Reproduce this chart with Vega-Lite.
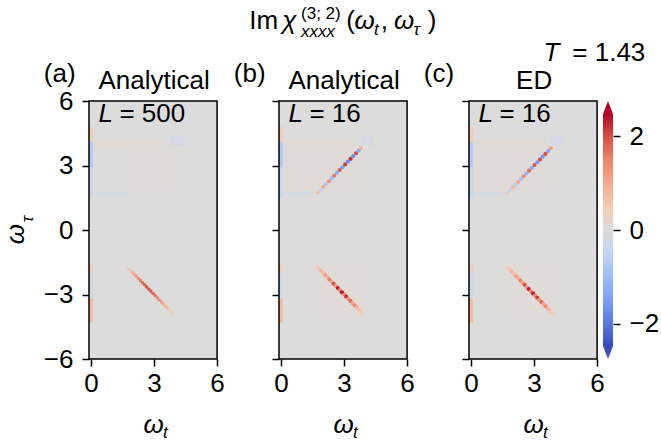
{
"$schema":"https://vega.github.io/schema/vega-lite/v6.json",
"background":"white",
"padding":{"left":3,"top":5,"right":5,"bottom":5},
"config":{"font":"Liberation Sans","view":{"stroke":null},
"axis":{"grid":false,"domain":false,"tickColor":"black","tickWidth":1.5,"tickSize":7,"labelFontSize":26,"labelColor":"black","labelFont":"Liberation Sans","labelFlush":false,"labelOverlap":false}},
"datasets":{
"cells":[
{"p":"a","x":-0.1,"x2":6,"y":-6,"y2":6,"v":0},
{"p":"a","x":1.7,"x2":3.8,"y":1.8,"y2":3.8,"v":0.04},
{"p":"a","x":-0.1,"x2":0.08,"y":4.1,"y2":4.8,"v":0.5},
{"p":"a","x":-0.1,"x2":0.08,"y":2.9,"y2":4.1,"v":-0.75},
{"p":"a","x":-0.1,"x2":0.08,"y":1.5,"y2":2.9,"v":-0.35},
{"p":"a","x":-0.1,"x2":0.08,"y":-2.0,"y2":-1.6,"v":0.4},
{"p":"a","x":-0.1,"x2":0.08,"y":-3.2,"y2":-2.0,"v":-0.25},
{"p":"a","x":-0.1,"x2":0.08,"y":-4.3,"y2":-3.2,"v":0.8},
{"p":"a","x":0.08,"x2":3.8,"y":3.85,"y2":4.1,"v":0.1},
{"p":"a","x":0.08,"x2":1.7,"y":1.65,"y2":1.75,"v":-0.15},
{"p":"a","x":3.8,"x2":4.4,"y":3.9,"y2":4.4,"v":-0.15},
{"p":"b","x":-0.1,"x2":6,"y":-6,"y2":6,"v":0},
{"p":"b","x":0.08,"x2":3.8,"y":1.8,"y2":3.85,"v":0.05},
{"p":"b","x":1.6,"x2":4.0,"y":-4.1,"y2":-1.6,"v":0.04},
{"p":"b","x":-0.1,"x2":0.08,"y":4.1,"y2":4.8,"v":0.5},
{"p":"b","x":-0.1,"x2":0.08,"y":2.9,"y2":4.1,"v":-0.75},
{"p":"b","x":-0.1,"x2":0.08,"y":1.5,"y2":2.9,"v":-0.35},
{"p":"b","x":-0.1,"x2":0.08,"y":-2.0,"y2":-1.6,"v":0.4},
{"p":"b","x":-0.1,"x2":0.08,"y":-3.2,"y2":-2.0,"v":-0.25},
{"p":"b","x":-0.1,"x2":0.08,"y":-4.3,"y2":-3.2,"v":0.8},
{"p":"b","x":0.08,"x2":3.8,"y":3.85,"y2":4.1,"v":0.1},
{"p":"b","x":0.08,"x2":1.7,"y":1.65,"y2":1.75,"v":-0.15},
{"p":"b","x":3.8,"x2":4.4,"y":3.9,"y2":4.4,"v":-0.15},
{"p":"c","x":-0.1,"x2":6,"y":-6,"y2":6,"v":0},
{"p":"c","x":0.08,"x2":3.8,"y":1.8,"y2":3.85,"v":0.05},
{"p":"c","x":1.6,"x2":4.0,"y":-4.1,"y2":-1.6,"v":0.04},
{"p":"c","x":-0.1,"x2":0.08,"y":4.1,"y2":4.8,"v":0.5},
{"p":"c","x":-0.1,"x2":0.08,"y":2.9,"y2":4.1,"v":-0.75},
{"p":"c","x":-0.1,"x2":0.08,"y":1.5,"y2":2.9,"v":-0.35},
{"p":"c","x":-0.1,"x2":0.08,"y":-2.0,"y2":-1.6,"v":0.4},
{"p":"c","x":-0.1,"x2":0.08,"y":-3.2,"y2":-2.0,"v":-0.25},
{"p":"c","x":-0.1,"x2":0.08,"y":-4.3,"y2":-3.2,"v":0.8},
{"p":"c","x":0.08,"x2":3.8,"y":3.85,"y2":4.1,"v":0.1},
{"p":"c","x":0.08,"x2":1.7,"y":1.65,"y2":1.75,"v":-0.15},
{"p":"c","x":3.8,"x2":4.4,"y":3.9,"y2":4.4,"v":-0.15}
],
"dots":[
{"p":"a","x":1.75,"y":-1.75,"v":0.45},{"p":"a","x":1.85,"y":-1.85,"v":0.6},{"p":"a","x":1.95,"y":-1.95,"v":0.8},{"p":"a","x":2.05,"y":-2.05,"v":1.0},{"p":"a","x":2.15,"y":-2.15,"v":1.2},{"p":"a","x":2.25,"y":-2.25,"v":1.4},{"p":"a","x":2.35,"y":-2.35,"v":1.55},{"p":"a","x":2.45,"y":-2.45,"v":1.7},{"p":"a","x":2.55,"y":-2.55,"v":1.85},{"p":"a","x":2.65,"y":-2.65,"v":1.95},{"p":"a","x":2.75,"y":-2.75,"v":1.95},{"p":"a","x":2.85,"y":-2.85,"v":1.9},{"p":"a","x":2.95,"y":-2.95,"v":1.8},{"p":"a","x":3.05,"y":-3.05,"v":1.65},{"p":"a","x":3.15,"y":-3.15,"v":1.5},{"p":"a","x":3.25,"y":-3.25,"v":1.35},{"p":"a","x":3.35,"y":-3.35,"v":1.2},{"p":"a","x":3.45,"y":-3.45,"v":1.0},{"p":"a","x":3.55,"y":-3.55,"v":0.85},{"p":"a","x":3.65,"y":-3.65,"v":0.7},{"p":"a","x":3.75,"y":-3.75,"v":0.55},{"p":"a","x":3.85,"y":-3.85,"v":0.4},
{"p":"b","x":1.75,"y":1.75,"v":0.7},{"p":"b","x":1.88,"y":1.88,"v":-0.6},{"p":"b","x":2.01,"y":2.01,"v":1.0},{"p":"b","x":2.14,"y":2.14,"v":-0.8},{"p":"b","x":2.27,"y":2.27,"v":1.3},{"p":"b","x":2.4,"y":2.4,"v":-1.0},{"p":"b","x":2.53,"y":2.53,"v":1.6},{"p":"b","x":2.66,"y":2.66,"v":-1.3},{"p":"b","x":2.79,"y":2.79,"v":1.9},{"p":"b","x":2.92,"y":2.92,"v":-1.5},{"p":"b","x":3.05,"y":3.05,"v":2.1},{"p":"b","x":3.18,"y":3.18,"v":-1.7},{"p":"b","x":3.31,"y":3.31,"v":2.2},{"p":"b","x":3.44,"y":3.44,"v":-1.7},{"p":"b","x":3.57,"y":3.57,"v":2.0},{"p":"b","x":3.7,"y":3.7,"v":-1.3},{"p":"b","x":3.8,"y":3.8,"v":0.9},
{"p":"b","x":1.7,"y":-1.7,"v":0.4},{"p":"b","x":1.8,"y":-1.8,"v":0.6},{"p":"b","x":1.9,"y":-1.9,"v":0.8},{"p":"b","x":2.0,"y":-2.0,"v":0.7},{"p":"b","x":2.1,"y":-2.1,"v":1.1},{"p":"b","x":2.2,"y":-2.2,"v":0.9},{"p":"b","x":2.3,"y":-2.3,"v":1.5},{"p":"b","x":2.4,"y":-2.4,"v":1.1},{"p":"b","x":2.5,"y":-2.5,"v":2.0},{"p":"b","x":2.6,"y":-2.6,"v":1.3},{"p":"b","x":2.7,"y":-2.7,"v":2.3},{"p":"b","x":2.8,"y":-2.8,"v":1.4},{"p":"b","x":2.9,"y":-2.9,"v":2.4},{"p":"b","x":3.0,"y":-3.0,"v":1.4},{"p":"b","x":3.1,"y":-3.1,"v":2.2},{"p":"b","x":3.2,"y":-3.2,"v":1.3},{"p":"b","x":3.3,"y":-3.3,"v":1.8},{"p":"b","x":3.4,"y":-3.4,"v":1.1},{"p":"b","x":3.5,"y":-3.5,"v":1.4},{"p":"b","x":3.6,"y":-3.6,"v":0.9},{"p":"b","x":3.7,"y":-3.7,"v":0.7},{"p":"b","x":3.8,"y":-3.8,"v":0.5},{"p":"b","x":3.88,"y":-3.88,"v":0.35},
{"p":"c","x":1.72,"y":1.72,"v":0.5},{"p":"c","x":1.85,"y":1.85,"v":-0.5},{"p":"c","x":1.98,"y":1.98,"v":0.8},{"p":"c","x":2.11,"y":2.11,"v":-0.7},{"p":"c","x":2.24,"y":2.24,"v":1.1},{"p":"c","x":2.37,"y":2.37,"v":-0.9},{"p":"c","x":2.5,"y":2.5,"v":1.4},{"p":"c","x":2.63,"y":2.63,"v":-1.1},{"p":"c","x":2.76,"y":2.76,"v":1.7},{"p":"c","x":2.89,"y":2.89,"v":-1.3},{"p":"c","x":3.02,"y":3.02,"v":1.9},{"p":"c","x":3.15,"y":3.15,"v":-1.5},{"p":"c","x":3.28,"y":3.28,"v":2.0},{"p":"c","x":3.41,"y":3.41,"v":-1.6},{"p":"c","x":3.54,"y":3.54,"v":2.0},{"p":"c","x":3.67,"y":3.67,"v":-1.4},{"p":"c","x":3.8,"y":3.8,"v":1.2},
{"p":"c","x":1.75,"y":-1.75,"v":0.4},{"p":"c","x":1.85,"y":-1.85,"v":0.6},{"p":"c","x":1.95,"y":-1.95,"v":0.8},{"p":"c","x":2.05,"y":-2.05,"v":0.7},{"p":"c","x":2.15,"y":-2.15,"v":1.1},{"p":"c","x":2.25,"y":-2.25,"v":0.9},{"p":"c","x":2.35,"y":-2.35,"v":1.5},{"p":"c","x":2.45,"y":-2.45,"v":1.1},{"p":"c","x":2.55,"y":-2.55,"v":2.0},{"p":"c","x":2.65,"y":-2.65,"v":1.3},{"p":"c","x":2.75,"y":-2.75,"v":2.3},{"p":"c","x":2.85,"y":-2.85,"v":1.4},{"p":"c","x":2.95,"y":-2.95,"v":2.3},{"p":"c","x":3.05,"y":-3.05,"v":1.4},{"p":"c","x":3.15,"y":-3.15,"v":2.1},{"p":"c","x":3.25,"y":-3.25,"v":1.3},{"p":"c","x":3.35,"y":-3.35,"v":1.8},{"p":"c","x":3.45,"y":-3.45,"v":1.1},{"p":"c","x":3.55,"y":-3.55,"v":1.4},{"p":"c","x":3.65,"y":-3.65,"v":0.9},{"p":"c","x":3.75,"y":-3.75,"v":0.7},{"p":"c","x":3.85,"y":-3.85,"v":0.5},{"p":"c","x":3.93,"y":-3.93,"v":0.35}
],
"ann":[
{"p":"a","k":"big","x":-2.25,"y":6.88,"t":"(a)"},
{"p":"a","k":"bigc","x":3.0,"y":6.58,"t":"Analytical"},
{"p":"a","k":"bigi","x":0.35,"y":5.02,"t":"L"},
{"p":"a","k":"big","x":1.35,"y":5.02,"t":"= 500"},
{"p":"a","k":"bigi","x":2.5,"y":-9.44,"t":"ω"},
{"p":"a","k":"smalli","x":3.42,"y":-9.67,"t":"t"},
{"p":"a","k":"roti","x":-3.18,"y":-0.19,"t":"ω"},
{"p":"a","k":"rotsi","x":-2.78,"y":0.51,"t":"τ"},
{"p":"b","k":"big","x":-2.25,"y":6.88,"t":"(b)"},
{"p":"b","k":"bigc","x":3.0,"y":6.58,"t":"Analytical"},
{"p":"b","k":"bigi","x":0.35,"y":5.02,"t":"L"},
{"p":"b","k":"big","x":1.35,"y":5.02,"t":"= 16"},
{"p":"b","k":"bigi","x":2.5,"y":-9.44,"t":"ω"},
{"p":"b","k":"smalli","x":3.42,"y":-9.67,"t":"t"},
{"p":"b","k":"big","x":-1.52,"y":9.35,"t":"Im"},
{"p":"b","k":"bigi","x":0.05,"y":9.35,"t":"χ"},
{"p":"b","k":"small","x":0.95,"y":9.81,"t":"(3; 2)"},
{"p":"b","k":"smalli","x":0.95,"y":8.98,"t":"xxxx"},
{"p":"b","k":"big","x":3.1,"y":9.35,"t":"("},
{"p":"b","k":"bigi","x":3.5,"y":9.35,"t":"ω"},
{"p":"b","k":"smalli","x":4.42,"y":9.07,"t":"t"},
{"p":"b","k":"big","x":4.74,"y":9.35,"t":","},
{"p":"b","k":"bigi","x":5.38,"y":9.35,"t":"ω"},
{"p":"b","k":"smalli","x":6.3,"y":9.07,"t":"τ"},
{"p":"b","k":"big","x":6.98,"y":9.35,"t":")"},
{"p":"c","k":"big","x":-2.25,"y":6.88,"t":"(c)"},
{"p":"c","k":"bigc","x":3.0,"y":6.58,"t":"ED"},
{"p":"c","k":"bigi","x":0.35,"y":5.02,"t":"L"},
{"p":"c","k":"big","x":1.35,"y":5.02,"t":"= 16"},
{"p":"c","k":"bigi","x":2.5,"y":-9.44,"t":"ω"},
{"p":"c","k":"smalli","x":3.42,"y":-9.67,"t":"t"},
{"p":"c","k":"bigi","x":3.45,"y":7.85,"t":"T"},
{"p":"c","k":"big","x":4.82,"y":7.85,"t":"= 1.43"}
],
"cbar":[{"x":0,"x2":1,"y":-2.47,"y2":2.47}],
"tri":[{"x":0.5,"y":2.608,"end":"top"},{"x":0.5,"y":-2.608,"end":"bottom"}]
},
"bounds":"flush",
"spacing":0,
"hconcat":[
{"width":190,"height":258,
"encoding":{"x":{"field":"x","type":"quantitative","scale":{"domain":[-0.1,8.948],"nice":false,"zero":false},"axis":{"values":[0,3,6],"title":null,"labelPadding":4}},
"y":{"field":"y","type":"quantitative","scale":{"domain":[-6,6],"nice":false,"zero":false},"axis":{"values":[-6,-3,0,3,6],"title":null,"labelPadding":9}}},
"layer":[
{"data":{"name":"cells"},"transform":[{"filter":"datum.p === 'a'"}],"mark":{"type":"rect"},"encoding":{"x2":{"field":"x2"},"y2":{"field":"y2"},"color":{"field":"v","type":"quantitative","legend":null,"scale":{"type":"linear","domain":[-2.47,-1.976,-1.482,-0.988,-0.494,0,0.494,0.988,1.482,1.976,2.47],"range":["#3b4cc0","#5a78e4","#7b9ff9","#9ebeff","#c0d4f5","#dddcdc","#f2cbb7","#f7ac8e","#ee8468","#d65244","#b40426"],"clamp":true,"interpolate":"rgb"}}}},
{"data":{"name":"dots"},"transform":[{"filter":"datum.p === 'a'"}],"mark":{"type":"circle","size":12,"opacity":1},"encoding":{"color":{"field":"v","type":"quantitative","legend":null,"scale":{"type":"linear","domain":[-2.47,-1.976,-1.482,-0.988,-0.494,0,0.494,0.988,1.482,1.976,2.47],"range":["#3b4cc0","#5a78e4","#7b9ff9","#9ebeff","#c0d4f5","#dddcdc","#f2cbb7","#f7ac8e","#ee8468","#d65244","#b40426"],"clamp":true,"interpolate":"rgb"}}}},
{"data":{"name":"cells"},"transform":[{"filter":"datum.p === 'a' && datum.x === -0.1 && datum.x2 === 6"}],"mark":{"type":"rect","filled":false,"stroke":"black","strokeWidth":1.5},"encoding":{"x2":{"field":"x2"},"y2":{"field":"y2"}}},
{"data":{"name":"ann"},"transform":[{"filter":"datum.p === 'a' && datum.k === 'big'"}],"mark":{"type":"text","fontSize":26,"align":"left","baseline":"alphabetic"},"encoding":{"text":{"field":"t","type":"nominal"}}},
{"data":{"name":"ann"},"transform":[{"filter":"datum.p === 'a' && datum.k === 'bigc'"}],"mark":{"type":"text","fontSize":26,"align":"center","baseline":"alphabetic"},"encoding":{"text":{"field":"t","type":"nominal"}}},
{"data":{"name":"ann"},"transform":[{"filter":"datum.p === 'a' && datum.k === 'bigi'"}],"mark":{"type":"text","fontSize":26,"fontStyle":"italic","align":"left","baseline":"alphabetic"},"encoding":{"text":{"field":"t","type":"nominal"}}},
{"data":{"name":"ann"},"transform":[{"filter":"datum.p === 'a' && datum.k === 'smalli'"}],"mark":{"type":"text","fontSize":17,"fontStyle":"italic","align":"left","baseline":"alphabetic"},"encoding":{"text":{"field":"t","type":"nominal"}}},
{"data":{"name":"ann"},"transform":[{"filter":"datum.p === 'a' && datum.k === 'roti'"}],"mark":{"type":"text","fontSize":26,"fontStyle":"italic","angle":270,"align":"center","baseline":"alphabetic"},"encoding":{"text":{"field":"t","type":"nominal"}}},
{"data":{"name":"ann"},"transform":[{"filter":"datum.p === 'a' && datum.k === 'rotsi'"}],"mark":{"type":"text","fontSize":17,"fontStyle":"italic","angle":270,"align":"center","baseline":"alphabetic"},"encoding":{"text":{"field":"t","type":"nominal"}}}
]},
{"width":190,"height":258,
"encoding":{"x":{"field":"x","type":"quantitative","scale":{"domain":[-0.1,8.948],"nice":false,"zero":false},"axis":{"values":[0,3,6],"title":null,"labelPadding":4}},
"y":{"field":"y","type":"quantitative","scale":{"domain":[-6,6],"nice":false,"zero":false},"axis":{"values":[-6,-3,0,3,6],"title":null,"labels":false}}},
"layer":[
{"data":{"name":"cells"},"transform":[{"filter":"datum.p === 'b'"}],"mark":{"type":"rect"},"encoding":{"x2":{"field":"x2"},"y2":{"field":"y2"},"color":{"field":"v","type":"quantitative","legend":null,"scale":{"type":"linear","domain":[-2.47,-1.976,-1.482,-0.988,-0.494,0,0.494,0.988,1.482,1.976,2.47],"range":["#3b4cc0","#5a78e4","#7b9ff9","#9ebeff","#c0d4f5","#dddcdc","#f2cbb7","#f7ac8e","#ee8468","#d65244","#b40426"],"clamp":true,"interpolate":"rgb"}}}},
{"data":{"name":"dots"},"transform":[{"filter":"datum.p === 'b'"}],"mark":{"type":"circle","size":17,"opacity":1},"encoding":{"color":{"field":"v","type":"quantitative","legend":null,"scale":{"type":"linear","domain":[-2.47,-1.976,-1.482,-0.988,-0.494,0,0.494,0.988,1.482,1.976,2.47],"range":["#3b4cc0","#5a78e4","#7b9ff9","#9ebeff","#c0d4f5","#dddcdc","#f2cbb7","#f7ac8e","#ee8468","#d65244","#b40426"],"clamp":true,"interpolate":"rgb"}}}},
{"data":{"name":"cells"},"transform":[{"filter":"datum.p === 'b' && datum.x === -0.1 && datum.x2 === 6"}],"mark":{"type":"rect","filled":false,"stroke":"black","strokeWidth":1.5},"encoding":{"x2":{"field":"x2"},"y2":{"field":"y2"}}},
{"data":{"name":"ann"},"transform":[{"filter":"datum.p === 'b' && datum.k === 'big'"}],"mark":{"type":"text","fontSize":26,"align":"left","baseline":"alphabetic"},"encoding":{"text":{"field":"t","type":"nominal"}}},
{"data":{"name":"ann"},"transform":[{"filter":"datum.p === 'b' && datum.k === 'bigc'"}],"mark":{"type":"text","fontSize":26,"align":"center","baseline":"alphabetic"},"encoding":{"text":{"field":"t","type":"nominal"}}},
{"data":{"name":"ann"},"transform":[{"filter":"datum.p === 'b' && datum.k === 'bigi'"}],"mark":{"type":"text","fontSize":26,"fontStyle":"italic","align":"left","baseline":"alphabetic"},"encoding":{"text":{"field":"t","type":"nominal"}}},
{"data":{"name":"ann"},"transform":[{"filter":"datum.p === 'b' && datum.k === 'smalli'"}],"mark":{"type":"text","fontSize":17,"fontStyle":"italic","align":"left","baseline":"alphabetic"},"encoding":{"text":{"field":"t","type":"nominal"}}},
{"data":{"name":"ann"},"transform":[{"filter":"datum.p === 'b' && datum.k === 'small'"}],"mark":{"type":"text","fontSize":17,"align":"left","baseline":"alphabetic"},"encoding":{"text":{"field":"t","type":"nominal"}}}
]},
{"width":134,"height":258,
"encoding":{"x":{"field":"x","type":"quantitative","scale":{"domain":[-0.1,6.281],"nice":false,"zero":false},"axis":{"values":[0,3,6],"title":null,"labelPadding":4}},
"y":{"field":"y","type":"quantitative","scale":{"domain":[-6,6],"nice":false,"zero":false},"axis":{"values":[-6,-3,0,3,6],"title":null,"labels":false}}},
"layer":[
{"data":{"name":"cells"},"transform":[{"filter":"datum.p === 'c'"}],"mark":{"type":"rect"},"encoding":{"x2":{"field":"x2"},"y2":{"field":"y2"},"color":{"field":"v","type":"quantitative","legend":null,"scale":{"type":"linear","domain":[-2.47,-1.976,-1.482,-0.988,-0.494,0,0.494,0.988,1.482,1.976,2.47],"range":["#3b4cc0","#5a78e4","#7b9ff9","#9ebeff","#c0d4f5","#dddcdc","#f2cbb7","#f7ac8e","#ee8468","#d65244","#b40426"],"clamp":true,"interpolate":"rgb"}}}},
{"data":{"name":"dots"},"transform":[{"filter":"datum.p === 'c'"}],"mark":{"type":"circle","size":17,"opacity":1},"encoding":{"color":{"field":"v","type":"quantitative","legend":null,"scale":{"type":"linear","domain":[-2.47,-1.976,-1.482,-0.988,-0.494,0,0.494,0.988,1.482,1.976,2.47],"range":["#3b4cc0","#5a78e4","#7b9ff9","#9ebeff","#c0d4f5","#dddcdc","#f2cbb7","#f7ac8e","#ee8468","#d65244","#b40426"],"clamp":true,"interpolate":"rgb"}}}},
{"data":{"name":"cells"},"transform":[{"filter":"datum.p === 'c' && datum.x === -0.1 && datum.x2 === 6"}],"mark":{"type":"rect","filled":false,"stroke":"black","strokeWidth":1.5},"encoding":{"x2":{"field":"x2"},"y2":{"field":"y2"}}},
{"data":{"name":"ann"},"transform":[{"filter":"datum.p === 'c' && datum.k === 'big'"}],"mark":{"type":"text","fontSize":26,"align":"left","baseline":"alphabetic"},"encoding":{"text":{"field":"t","type":"nominal"}}},
{"data":{"name":"ann"},"transform":[{"filter":"datum.p === 'c' && datum.k === 'bigc'"}],"mark":{"type":"text","fontSize":26,"align":"center","baseline":"alphabetic"},"encoding":{"text":{"field":"t","type":"nominal"}}},
{"data":{"name":"ann"},"transform":[{"filter":"datum.p === 'c' && datum.k === 'bigi'"}],"mark":{"type":"text","fontSize":26,"fontStyle":"italic","align":"left","baseline":"alphabetic"},"encoding":{"text":{"field":"t","type":"nominal"}}},
{"data":{"name":"ann"},"transform":[{"filter":"datum.p === 'c' && datum.k === 'smalli'"}],"mark":{"type":"text","fontSize":17,"fontStyle":"italic","align":"left","baseline":"alphabetic"},"encoding":{"text":{"field":"t","type":"nominal"}}}
]},
{"width":10,"height":258,
"encoding":{"x":{"field":"x","type":"quantitative","scale":{"domain":[0,1],"nice":false,"zero":false},"axis":null},
"y":{"field":"y","type":"quantitative","scale":{"domain":[-2.745,2.745],"nice":false,"zero":false},"axis":{"orient":"right","values":[-2,0,2],"title":null,"labelPadding":9}}},
"layer":[
{"data":{"name":"cbar"},"mark":{"type":"rect","fill":{"gradient":"linear","x1":0,"y1":1,"x2":0,"y2":0,"stops":[{"offset":0,"color":"#3b4cc0"},{"offset":0.1,"color":"#5a78e4"},{"offset":0.2,"color":"#7b9ff9"},{"offset":0.3,"color":"#9ebeff"},{"offset":0.4,"color":"#c0d4f5"},{"offset":0.5,"color":"#dddcdc"},{"offset":0.6,"color":"#f2cbb7"},{"offset":0.7,"color":"#f7ac8e"},{"offset":0.8,"color":"#ee8468"},{"offset":0.9,"color":"#d65244"},{"offset":1,"color":"#b40426"}]}},"encoding":{"x2":{"field":"x2"},"y2":{"field":"y2"}}},
{"data":{"name":"tri"},"transform":[{"filter":"datum.end === 'top'"}],"mark":{"type":"point","shape":"M-1,1.3L0,-1.3L1,1.3Z","filled":true,"size":100,"fill":"#b40426","opacity":1,"strokeWidth":0}},
{"data":{"name":"tri"},"transform":[{"filter":"datum.end === 'bottom'"}],"mark":{"type":"point","shape":"M-1,-1.3L0,1.3L1,-1.3Z","filled":true,"size":100,"fill":"#3b4cc0","opacity":1,"strokeWidth":0}}
]}
]
}
